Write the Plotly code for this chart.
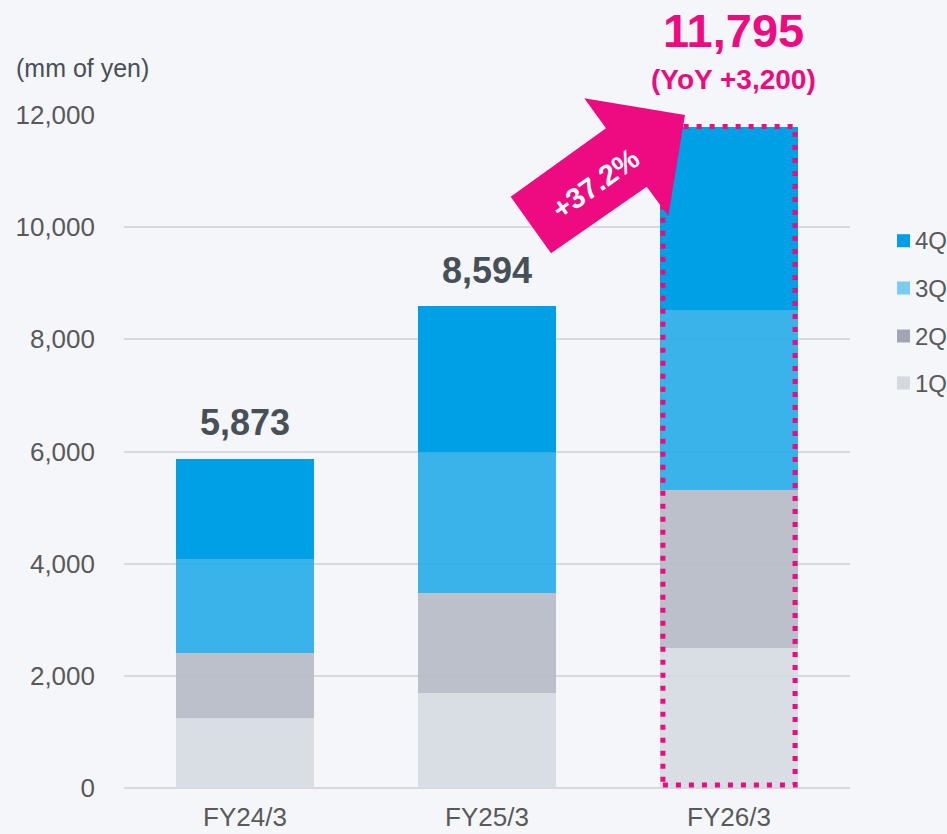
import plotly.graph_objects as go

# ---- data ----
categories = ["FY24/3", "FY25/3", "FY26/3"]
q1 = [1245, 1690, 2500]
q2 = [1160, 1790, 2805]
q3 = [1675, 2520, 3220]
q4 = [1793, 2594, 3270]
totals = [5873, 8594, 11795]
series_names = ["1Q", "2Q", "3Q", "4Q"]
yoy_text = "(YoY +3,200)"
unit_label = "(mm of yen)"
tick_values = [0, 2000, 4000, 6000, 8000, 10000, 12000]

# ---- style ----
FONT = "Liberation Sans, Arial, sans-serif"
PINK = "#EE0A80"
bar_colors = ["rgba(214,218,225,0.9)", "rgba(181,186,196,0.9)",
              "rgba(41,173,233,0.92)", "rgba(0,160,230,1)"]
legend_colors = ["#D5D8DE", "#A2A6B0", "#7ACBF0", "#009FE8"]
BG = "#F4F6F9"

W, H = 947, 834
ML, MR, MT, MB = 124, 97, 115, 46
PW, PH = W - ML - MR, H - MT - MB


def px(x, y):
    """pixel -> paper coords"""
    return (x - ML) / PW, (H - MB - y) / PH


fig = go.Figure()
series_vals = [q1, q2, q3, q4]
for name, vals, col in zip(series_names, series_vals, bar_colors):
    fig.add_trace(go.Bar(
        x=categories, y=vals, name=name,
        marker=dict(color=col, line=dict(width=0)),
        width=0.57, showlegend=False, hoverinfo="skip",
    ))

annotations = []
shapes = []

# total labels for first two bars
for i in range(2):
    annotations.append(dict(
        x=categories[i], y=totals[i], xref="x", yref="y",
        text=f"<b>{totals[i]:,}</b>", showarrow=False,
        yanchor="middle", yshift=36,
        font=dict(family=FONT, size=36, color="#474F57"),
    ))

# highlighted last bar total
annotations.append(dict(
    x=categories[2], y=totals[2], xref="x", yref="y",
    text=f"<b>{totals[2]:,}</b>", showarrow=False,
    yanchor="middle", yshift=96, xshift=4,
    font=dict(family=FONT, size=47, color=PINK),
))
annotations.append(dict(
    x=categories[2], y=totals[2], xref="x", yref="y",
    text=f"<b>{yoy_text}</b>", showarrow=False,
    yanchor="middle", yshift=47, xshift=4,
    font=dict(family=FONT, size=28, color=PINK),
))

# dotted box around last bar
shapes.append(dict(
    type="rect", xref="x", yref="y",
    x0=2 - 0.273, x1=2 + 0.273, y0=55, y1=totals[2],
    line=dict(color=PINK, width=5, dash="5px,8px"),
    fillcolor="rgba(0,0,0,0)", layer="above",
))

# arrow
arrow_px = [(685, 115), (584.3, 98.3), (606, 128.3), (510.7, 196.7),
            (551, 253.3), (646.7, 186.7), (668.3, 216)]
pts = [px(a, b) for a, b in arrow_px]
path = "M " + " L ".join(f"{a:.4f},{b:.4f}" for a, b in pts) + " Z"
shapes.append(dict(type="path", xref="paper", yref="paper", path=path,
                   fillcolor=PINK, line=dict(width=0), layer="above"))
growth = (totals[2] / totals[1] - 1) * 100
tx, ty = px(595, 184)
annotations.append(dict(
    x=tx, y=ty, xref="paper", yref="paper",
    text=f"<b>+{growth:.1f}%</b>", showarrow=False, textangle=-35.5,
    xanchor="center", yanchor="middle",
    font=dict(family=FONT, size=29, color="white"),
))

# unit label
ux, uy = px(14, 68)
annotations.append(dict(
    x=ux, y=uy, xref="paper", yref="paper", text=unit_label,
    showarrow=False, xanchor="left", yanchor="middle",
    font=dict(family=FONT, size=25, color="#474F57"),
))

# manual legend (top to bottom: 4Q..1Q)
legend_y = [240.7, 288, 336, 383]
for k, (name, col) in enumerate(zip(series_names[::-1], legend_colors[::-1])):
    yc = legend_y[k]
    x0, y0 = px(897, yc - 6.5)
    x1, y1 = px(910, yc + 6.5)
    shapes.append(dict(type="rect", xref="paper", yref="paper",
                       x0=x0, x1=x1, y0=y1, y1=y0,
                       fillcolor=col, line=dict(width=0)))
    lx, ly = px(913, yc)
    annotations.append(dict(
        x=lx, y=ly, xref="paper", yref="paper", text=name,
        showarrow=False, xanchor="left", yanchor="middle",
        font=dict(family=FONT, size=24, color="#595959"),
    ))

fig.update_layout(
    barmode="stack",
    width=W, height=H,
    margin=dict(l=ML, r=MR, t=MT, b=MB, pad=0, autoexpand=False),
    paper_bgcolor=BG, plot_bgcolor=BG,
    font=dict(family=FONT, color="#595959"),
    annotations=annotations, shapes=shapes,
    showlegend=False,
)
fig.update_yaxes(
    range=[0, 12000], tickvals=tick_values, tickformat=",",
    showgrid=True, gridcolor="#D9D9D9", gridwidth=1.5,
    zeroline=True, zerolinecolor="#D9D9D9", zerolinewidth=1.5,
    showline=False, ticks="", ticklabelstandoff=28, automargin=False,
    tickfont=dict(family=FONT, size=26, color="#595959"),
    fixedrange=True,
)
fig.update_xaxes(
    range=[-0.5, 2.5], showgrid=False, showline=False, ticks="",
    ticklabelstandoff=11, automargin=False,
    tickfont=dict(family=FONT, size=26, color="#595959"),
    fixedrange=True,
)

fig.write_html(
    "out.html",
    config={"displayModeBar": False},
    post_script="document.body.style.margin='0';document.body.style.overflow='hidden';document.body.style.background='%s';" % BG,
)
